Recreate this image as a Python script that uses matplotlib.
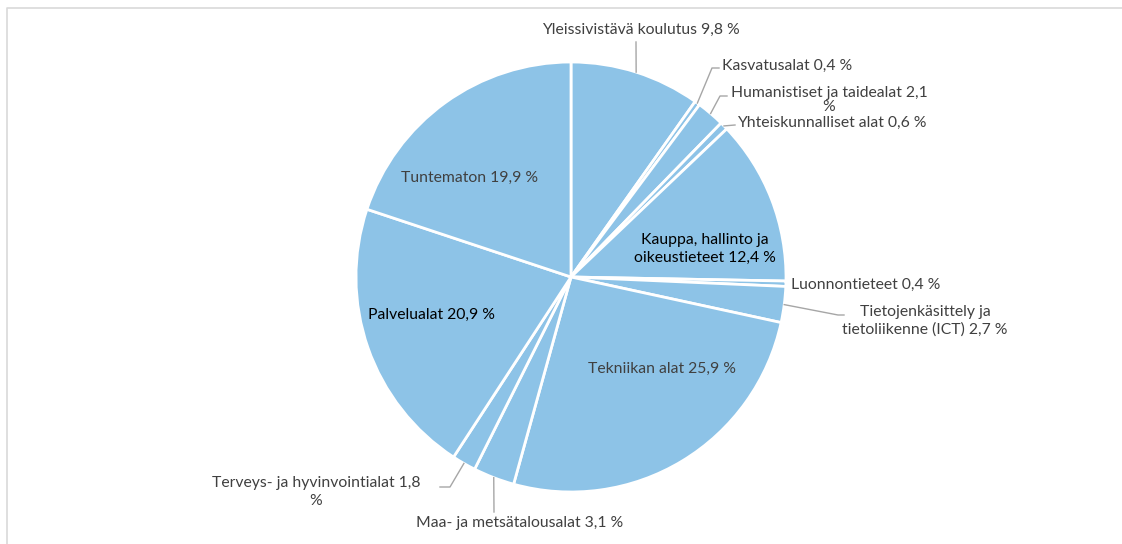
import numpy as np
import matplotlib.pyplot as plt

labels = ['Yleissivistävä koulutus', 'Kasvatusalat', 'Humanistiset ja taidealat',
          'Yhteiskunnalliset alat', 'Kauppa, hallinto ja\noikeustieteet', 'Luonnontieteet',
          'Tietojenkäsittely ja\ntietoliikenne (ICT)', 'Tekniikan alat',
          'Maa- ja metsätalousalat', 'Terveys- ja hyvinvointialat', 'Palvelualat', 'Tuntematon']
values = [9.8, 0.4, 2.1, 0.6, 12.4, 0.4, 2.7, 25.9, 3.1, 1.8, 20.9, 19.9]

W, H = 1122, 544
cx, cy, r = 571, H - 277, 215
pie_color = '#8DC3E7'
grey = '#404040'
line_grey = '#A6A6A6'

plt.rcParams['font.family'] = ['Lato', 'DejaVu Sans']

fig = plt.figure(figsize=(W / 100, H / 100), dpi=100)
ax = fig.add_axes([0, 0, 1, 1])
ax.set_xlim(0, W)
ax.set_ylim(0, H)
ax.set_aspect('equal')
ax.axis('off')

# chart frame (only top and left edges visible)
ax.plot([7.5, 7.5, W], [0, H - 7.5, H - 7.5], color='#D9D9D9', lw=1.2, clip_on=False)

wedges, _ = ax.pie(values, center=(cx, cy), radius=r, startangle=90, counterclock=False,
                   colors=[pie_color] * len(values),
                   wedgeprops=dict(edgecolor='white', linewidth=2))
ax.set_xlim(0, W)
ax.set_ylim(0, H)


def fmt(v):
    return f'{v:.1f}'.replace('.', ',') + ' %'


def edge_point(i):
    w = wedges[i]
    a = np.deg2rad((w.theta1 + w.theta2) / 2)
    return cx + r * np.cos(a), cy + r * np.sin(a)


# label layout: (x, y in px from top, ha, colour, text override, line spacing, leader elbows)
layout = {
    0: (641, 30, 'center', grey, None, 1.3, [(636, 42)]),
    1: (722, 66, 'left', grey, None, 1.3, [(712, 68), (719, 68)]),
    2: (829, 100, 'center', grey, 'Humanistiset ja taidealat 2,1\n%', 1.0, [(720, 96), (727, 96)]),
    3: (737, 123, 'left', grey, None, 1.3, [(735, 125)]),
    4: (705, 249, 'center', 'black', None, 1.3, None),
    5: (791, 285, 'left', grey, None, 1.3, None),
    6: (925, 321, 'center', grey, None, 1.3, [(838, 315), (844, 315)]),
    7: (662, 369, 'center', grey, None, 1.3, None),
    8: (520, 523, 'center', grey, None, 1.3, [(494, 512)]),
    9: (316, 492, 'center', grey, 'Terveys- ja hyvinvointialat 1,8\n%', 1.3, [(450, 487), (440, 487)]),
    10: (432, 315, 'center', 'black', None, 1.3, None),
    11: (470, 178, 'center', grey, None, 1.3, None),
}

for i, (x, y, ha, col, txt, ls, elbows) in layout.items():
    text = txt if txt else f'{labels[i]} {fmt(values[i])}'
    ax.text(x, H - y, text, ha=ha, va='center', fontsize=11.3, color=col,
            multialignment='center', linespacing=ls)
    if elbows:
        ex, ey = edge_point(i)
        xs = [ex] + [p[0] for p in elbows]
        ys = [ey] + [H - p[1] for p in elbows]
        ax.plot(xs, ys, color=line_grey, lw=1)

fig.savefig('out.png', dpi=100)
